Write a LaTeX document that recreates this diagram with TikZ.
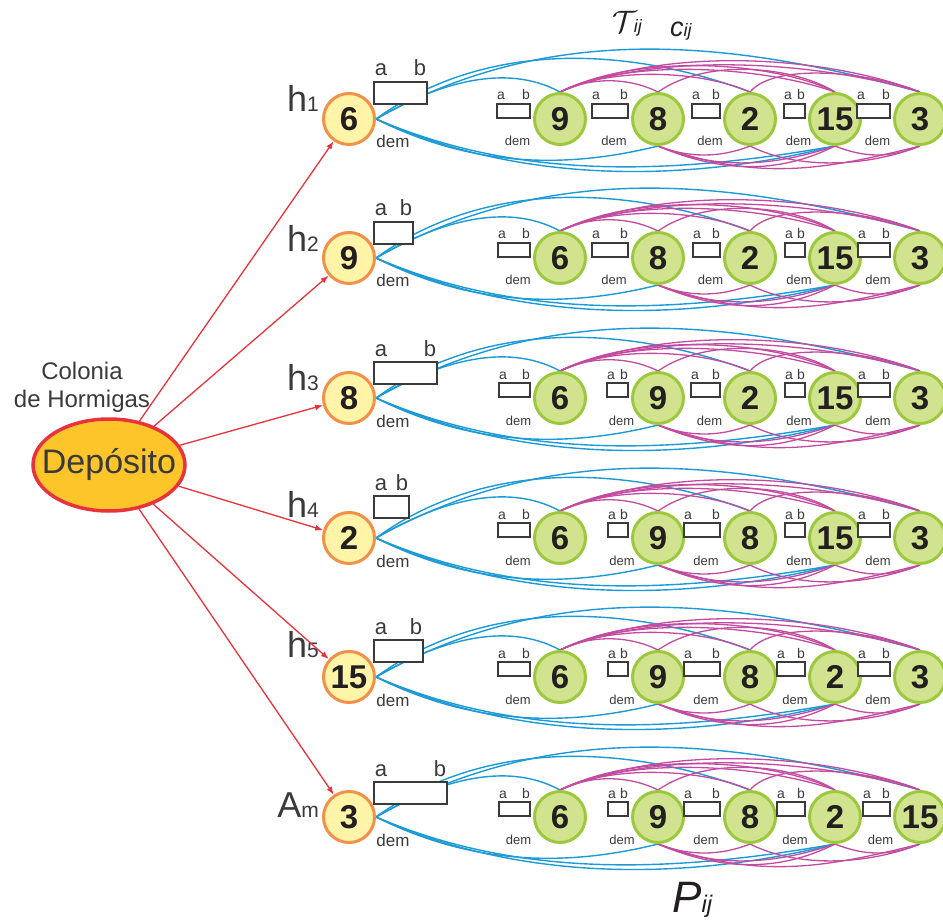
\RequirePackage{fix-cm}
\documentclass[tikz,border=0pt]{standalone}
\usepackage{fontspec}
\setmainfont{Liberation Sans}
\usetikzlibrary{shapes.geometric,arrows.meta}
\pgfdeclarelayer{bg}
\pgfsetlayers{bg,main}
\definecolor{cblue}{HTML}{1B9AD6}
\definecolor{cmag}{HTML}{C24B9F}
\definecolor{cred}{HTML}{E8323C}
\definecolor{cdepfill}{HTML}{FDC52A}
\definecolor{cyfill}{HTML}{FFF4A8}
\definecolor{cyline}{HTML}{F2904A}
\definecolor{cgfill}{HTML}{D1E38F}
\definecolor{cgline}{HTML}{9CC83E}
\definecolor{ctext}{HTML}{231F20}
\definecolor{clab}{HTML}{3A3A3A}
\newcommand\myfs[1]{\fontsize{#1}{#1}\selectfont}
\begin{document}
\begin{tikzpicture}[x=1pt,y=-1pt,
  startnode/.style={circle,draw=cyline,line width=3pt,fill=cyfill,minimum size=51pt,inner sep=0pt,font=\myfs{33}\bfseries,text=ctext},
  greennode/.style={circle,draw=cgline,line width=3pt,fill=cgfill,minimum size=51pt,inner sep=0pt,font=\myfs{33}\bfseries,text=ctext},
  startbox/.style={draw=clab,line width=2.5pt,fill=white},
  smallbox/.style={draw=clab,line width=1.5pt,fill=white},
  biglab/.style={font=\myfs{22},text=clab,inner sep=0pt,anchor=base},
  smalllab/.style={font=\myfs{14},text=clab,inner sep=0pt,anchor=base},
  demlab/.style={font=\myfs{17},text=clab,inner sep=0pt,anchor=base},
  smalldem/.style={font=\myfs{13},text=clab,inner sep=0pt,anchor=base},
  bl/.style={draw=cblue,line width=1.4pt},
  mg/.style={draw=cmag,line width=1.3pt},
  redarrow/.style={draw=cred,line width=1.3pt,-{Latex[length=8pt,width=6pt]}},
]
\useasboundingbox (0,0) rectangle (943,920);

\node[ellipse,draw=cred,line width=3.5pt,fill=cdepfill,minimum width=152pt,minimum height=92pt,inner sep=0pt] (dep) at (109,465) {};
\node[font=\myfs{34},text=clab,inner sep=0pt] (deptext) at (dep.center) {Depósito};
\node[font=\myfs{24},text=clab,inner sep=0pt,anchor=base] (col1) at (82,379) {Colonia};
\node[font=\myfs{24},text=clab,inner sep=0pt,anchor=base] (col2) at (82,407) {de Hormigas};

\node[anchor=base west,inner sep=0pt,text=ctext] (tij) at (612,33) {{\myfs{31}$\mathcal{T}$}\kern-3pt{\myfs{18}\itshape ij}};
\node[anchor=base west,inner sep=0pt,text=ctext] (cij) at (670,37) {{\myfs{27}\itshape c}{\myfs{18}\itshape ij}};
\node[anchor=base west,inner sep=0pt,text=ctext] (pij) at (672,912) {{\myfs{44}\itshape P}{\myfs{24}\itshape ij}};

\foreach \r/\Y/\hb/\lm/\ls/\s/\bw/\bt/\nA/\nB/\nC/\nD/\nE/\wA/\wB/\wC/\wD/\wE in {
 1/119/112/h/1/6/53/37/9/8/2/15/3/33/36/28/21/33,
 2/258/252/h/2/9/39/36/6/8/2/15/3/32/36/27/20/32,
 3/398/390/h/3/8/63/36/6/9/2/15/3/31/21/29/20/32,
 4/538/517/h/4/2/35/42/6/9/8/15/3/32/20/36/20/32,
 5/677/657/h/5/15/49/37/6/9/8/2/3/32/20/36/28/32,
 6/817/817/A/m/3/73/35/6/9/8/2/15/31/20/36/28/27}{
 \node[startnode] (s\r) at (349,\Y) {\s};
 \node[anchor=base east,inner sep=0pt,text=clab] (h\r) at (319,\hb) {{\myfs{36}\lm}{\myfs{21}\ls}};
 \draw[startbox] (374,\Y-\bt) rectangle (374+\bw,\Y-\bt+22);
 \node[biglab] (sa\r) at (381,\Y-\bt-6) {a};
 \node[biglab] (sb\r) at (374+\bw-7,\Y-\bt-6) {b};
 \node[demlab] (sd\r) at (393,\Y+29) {dem};
 \foreach \i/\gx/\num/\w in {1/560/\nA/\wA,2/658/\nB/\wB,3/750/\nC/\wC,4/835/\nD/\wD,5/920/\nE/\wE}{
   \node[greennode] (g\r-\i) at (\gx,\Y) {\num};
   \draw[smallbox] (\gx-30-\w,\Y-15) rectangle (\gx-30,\Y-1);
   \node[smalllab] (ga\r-\i) at (\gx-30-\w+4,\Y-19) {a};
   \node[smalllab] (gb\r-\i) at (\gx-34,\Y-19) {b};
   \node[smalldem] (gd\r-\i) at (\gx-30-\w/2+4,\Y+27) {dem};
 }
 \begin{pgfonlayer}{bg}
  % blue from start node
  \draw[bl] (s\r.east) .. controls +(60,-35) and +(-55,-30) .. (g\r-1.north);
  \draw[bl] (s\r.east) .. controls +(110,-80) and +(-120,-45) .. (g\r-3.north);
  \draw[bl] (s\r.east) .. controls +(170,-95) and +(-200,-55) .. (g\r-5.north);
  \draw[bl] (s\r.east) .. controls +(90,45) and +(-100,25) .. (g\r-2.south);
  \draw[bl] (s\r.east) .. controls +(140,60) and +(-170,30) .. (g\r-4.south);
  \draw[bl] (s\r.east) .. controls +(150,68) and +(-140,35) .. (g\r-4.south);
  % magenta upper
  \draw[mg] (g\r-1.north) .. controls +(30,-15) and +(-30,-15) .. (g\r-2.north);
  \draw[mg] (g\r-1.north) .. controls +(50,-25) and +(-50,-22) .. (g\r-3.north);
  \draw[mg] (g\r-1.north) .. controls +(70,-35) and +(-70,-25) .. (g\r-4.north);
  \draw[mg] (g\r-1.north) .. controls +(80,-40) and +(-60,-30) .. (g\r-4.north);
  \draw[mg] (g\r-1.north) .. controls +(100,-42) and +(-100,-30) .. (g\r-5.north);
  \draw[mg] (g\r-1.north) .. controls +(110,-48) and +(-90,-35) .. (g\r-5.north);
  \draw[mg] (g\r-3.north) .. controls +(25,-30) and +(-50,-20) .. (g\r-5.north);
  \draw[mg] (g\r-2.north) .. controls +(50,-35) and +(-40,-25) .. (g\r-4.north);
  % magenta lower
  \draw[mg] (g\r-2.south) .. controls +(30,12) and +(-30,12) .. (g\r-3.south);
  \draw[mg] (g\r-2.south) .. controls +(60,25) and +(-60,20) .. (g\r-4.south);
  \draw[mg] (g\r-2.south) .. controls +(70,30) and +(-50,25) .. (g\r-4.south);
  \draw[mg] (g\r-2.south) .. controls +(100,35) and +(-100,25) .. (g\r-5.south);
  \draw[mg] (g\r-3.south) .. controls +(50,25) and +(-50,20) .. (g\r-5.south);
  \draw[mg] (g\r-4.south) .. controls +(30,12) and +(-30,12) .. (g\r-5.south);
 \end{pgfonlayer}
 \draw[redarrow] (dep) -- (s\r);
}
\end{tikzpicture}
\end{document}
